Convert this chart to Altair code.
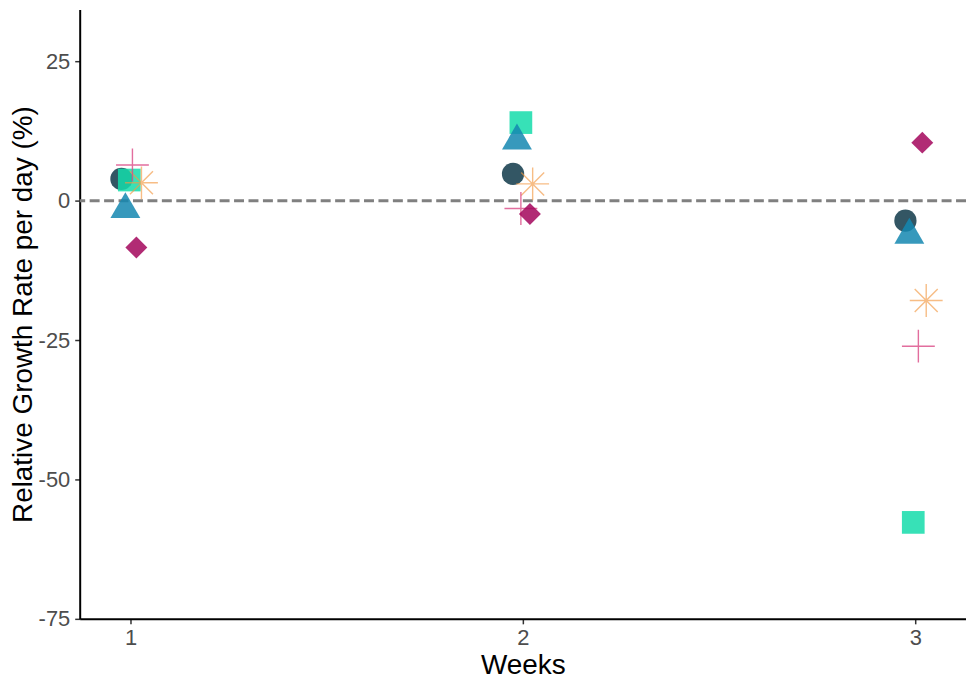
import pandas as pd
import altair as alt

# Relative growth rate per day (%) by week, one series per marker shape.
# x positions include the small horizontal jitter seen in the picture.
series_names = ["circle", "square", "triangle", "star", "plus", "diamond"]

circle_x = [0.977, 1.975, 2.975]
circle_y = [3.9, 4.8, -3.6]
square_x = [0.997, 1.995, 2.995]
square_y = [3.7, 14.0, -57.7]
triangle_x = [0.987, 1.985, 2.985]
triangle_y = [-0.8, 11.5, -5.4]
star_x = [1.028, 2.025, 3.028]
star_y = [3.2, 3.0, -17.9]
plus_x = [1.005, 1.995, 3.008]
plus_y = [6.4, -1.4, -26.1]
diamond_x = [1.015, 2.018, 3.018]
diamond_y = [-8.4, -2.4, 10.4]

week_ticks = [1, 2, 3]
rate_ticks = [-75, -50, -25, 0, 25]

series_data = {
    "circle": (circle_x, circle_y),
    "square": (square_x, square_y),
    "triangle": (triangle_x, triangle_y),
    "star": (star_x, star_y),
    "plus": (plus_x, plus_y),
    "diamond": (diamond_x, diamond_y),
}

# marker style per series: (shape, colour, size, filled, opacity)
STAR_PATH = "M-1,0H1M0,-1V1M-0.7,-0.7L0.7,0.7M-0.7,0.7L0.7,-0.7"
PLUS_PATH = "M-1,0H1M0,-1V1"
styles = {
    "circle": ("circle", "#173f4f", 500, True, 0.88),
    "square": ("square", "#14dcaa", 520, True, 0.85),
    "triangle": ("triangle-up", "#1487b0", 900, True, 0.85),
    "star": (STAR_PATH, "#f39a45", 1089, False, 0.65),
    "plus": (PLUS_PATH, "#dc4a86", 1089, False, 0.8),
    "diamond": ("diamond", "#a3065c", 484, True, 0.85),
}

x_scale = alt.Scale(domain=[0.8706, 3.1294], nice=False, zero=False)
y_scale = alt.Scale(domain=[-75, 34.3], nice=False, zero=False)

# plain hyphen for negatives, as in the original
label_expr = "datum.value < 0 ? '-' + abs(datum.value) : '' + datum.value"

x_axis = alt.Axis(title="Weeks", values=week_ticks, format="d",
                  labelPadding=4, titlePadding=3)
y_axis = alt.Axis(title="Relative Growth Rate per day (%)", values=rate_ticks,
                  labelExpr=label_expr, labelPadding=5, titlePadding=1)

# dashed reference line at zero
zero_df = pd.DataFrame({"y": [0]})
zero_line = alt.Chart(zero_df).mark_rule(
    color="#808080", strokeWidth=3, strokeDash=[10, 4.5]
).encode(y=alt.Y("y:Q", scale=y_scale, axis=y_axis))

layers = [zero_line]
for name in series_names:
    xs, ys = series_data[name]
    shape, colour, size, filled, opacity = styles[name]
    df = pd.DataFrame({"week": xs, "rate": ys, "series": name})
    if filled:
        mark = alt.Chart(df).mark_point(
            shape=shape, size=size, filled=True, fill=colour,
            strokeWidth=0, opacity=opacity
        )
    else:
        mark = alt.Chart(df).mark_point(
            shape=shape, size=size, filled=False, stroke=colour,
            strokeWidth=1.4, opacity=opacity
        )
    layers.append(mark.encode(
        x=alt.X("week:Q", scale=x_scale, axis=x_axis),
        y=alt.Y("rate:Q", scale=y_scale, axis=y_axis),
        tooltip=["series:N", "week:Q", "rate:Q"],
    ))

chart = alt.layer(*layers).properties(
    width=890,
    height=612,
    autosize=alt.AutoSizeParams(type="none"),
    padding={"left": 72, "top": 0, "right": 0, "bottom": 60},
    background="white",
).configure_view(
    stroke=None
).configure_axis(
    grid=False,
    domainColor="#000000",
    domainWidth=2,
    tickColor="#333333",
    tickWidth=1.5,
    tickSize=5,
    labelColor="#4d4d4d",
    labelFont="Liberation Sans",
    labelFontSize=22,
    titleColor="#000000",
    titleFont="Liberation Sans",
    titleFontSize=28,
    titleFontWeight="normal",
)

chart.save("out.html", embed_options={"renderer": "svg", "actions": False})
